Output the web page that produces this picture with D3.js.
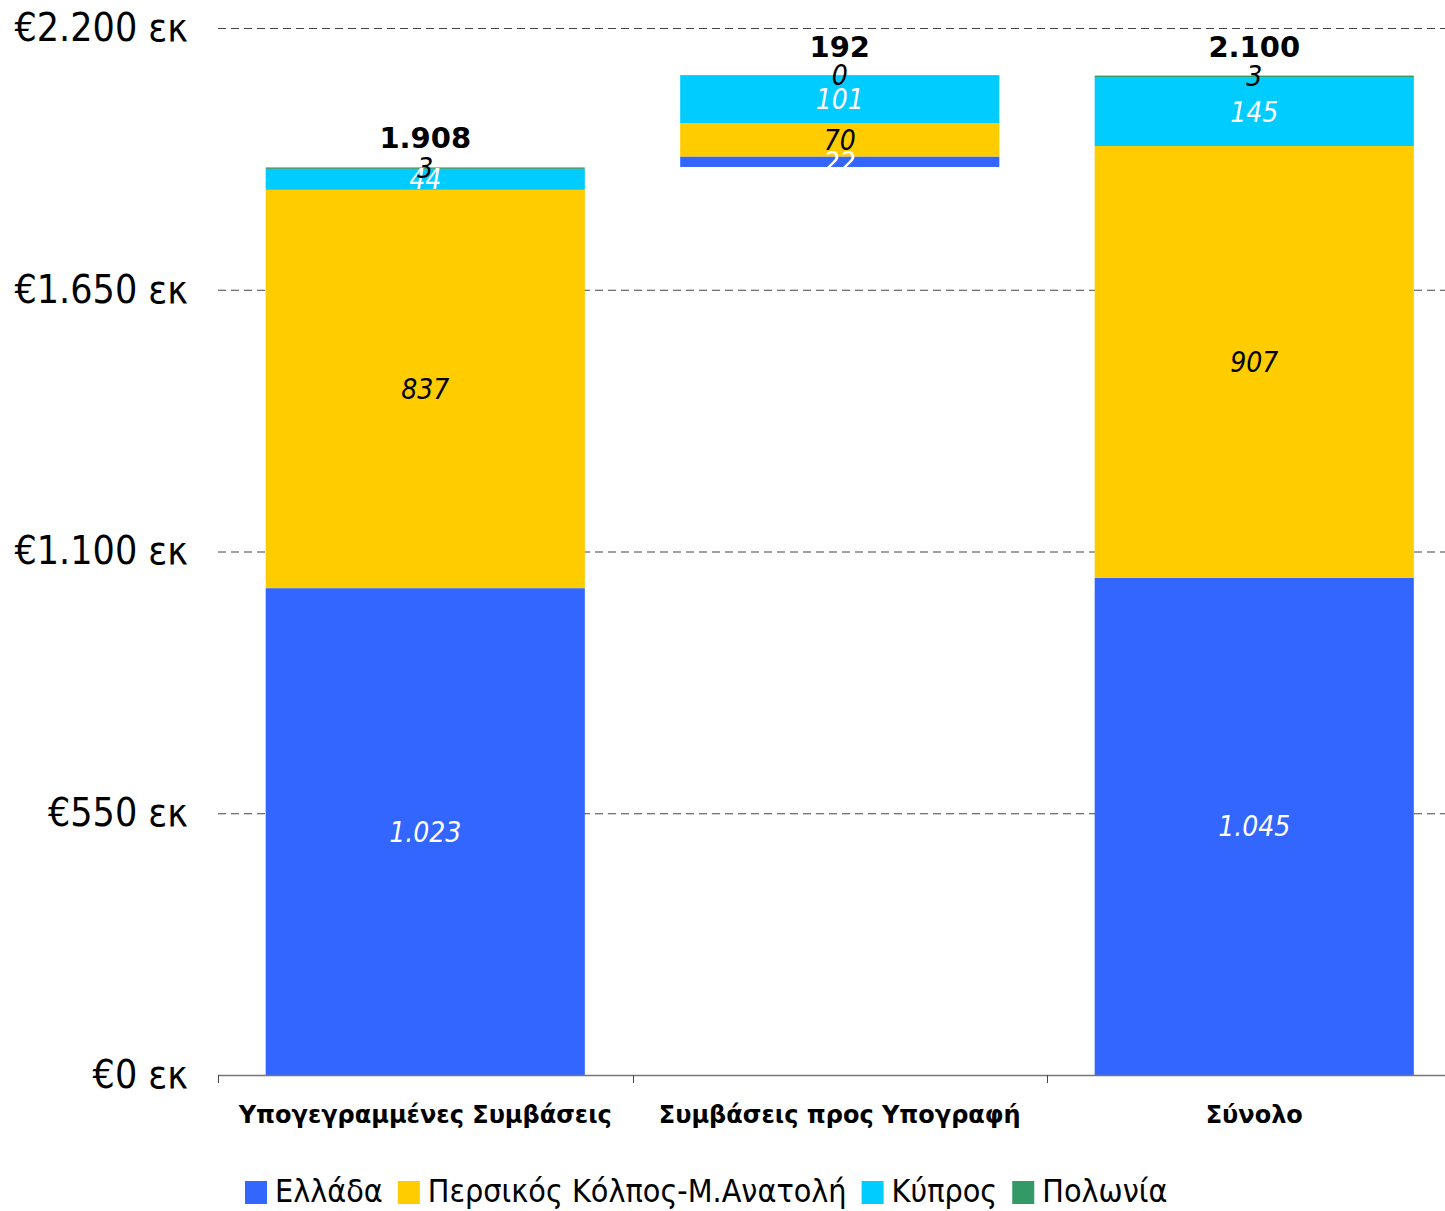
<!DOCTYPE html>
<html>
<head>
<meta charset="utf-8">
<script src="https://cdn.jsdelivr.net/npm/d3@7"></script>
<style>
  body { margin: 0; background: #fff; }
  svg text { font-family: "DejaVu Sans Condensed", "DejaVu Sans", sans-serif; }
</style>
</head>
<body>
<svg id="chart" width="1445" height="1211"></svg>
<script>
// categories and series
var categories = ["Υπογεγραμμένες Συμβάσεις", "Συμβάσεις προς Υπογραφή", "Σύνολο"];
var seriesNames = ["Ελλάδα", "Περσικός Κόλπος-Μ.Ανατολή", "Κύπρος", "Πολωνία"];
var seriesColors = ["#3366FF", "#FFCC00", "#00CCFF", "#339966"];
var labelColors = ["#fff", "#000", "#fff", "#000"];

// values (εκ €)
var greece = [1023, 22, 1045];
var gulf = [837, 70, 907];
var cyprus = [44, 101, 145];
var poland = [3, 0, 3];
var totals = [1908, 192, 2100];
var bases = [0, 1908, 0];   // second bar floats on top of the first
var yTicks = [0, 550, 1100, 1650, 2200];

var values = [greece, gulf, cyprus, poland];

var gr = d3.formatLocale({decimal: ",", thousands: ".", grouping: [3], currency: ["€", ""]});
var fmt = gr.format(",d");

var svg = d3.select("#chart");

var x = d3.scaleBand().domain(categories).range([218, 1461.5]).paddingInner(0.23).paddingOuter(0.115);
var y = d3.scaleLinear().domain([0, 2200]).range([1075, 28]);

// gridlines
svg.append("g").selectAll("line")
    .data(yTicks.filter(function(d){ return d > 0; }))
    .enter().append("line")
    .attr("x1", 218).attr("x2", 1445)
    .attr("y1", function(d){ return y(d) + 0.5; })
    .attr("y2", function(d){ return y(d) + 0.5; })
    .attr("stroke", "#444").attr("stroke-width", 1)
    .attr("stroke-dasharray", "8,5");

// y axis labels
var yAxis = d3.axisLeft(y).tickValues(yTicks).tickSize(0).tickPadding(0)
    .tickFormat(function(d){ return "€" + fmt(d) + " εκ"; });
var yg = svg.append("g").attr("transform", "translate(188,0)").call(yAxis);
yg.select(".domain").remove();
yg.selectAll("text").attr("font-size", 39).attr("fill", "#000")
    .style("font-family", "'DejaVu Sans Condensed', sans-serif");

// stacked segments
var segs = [];
categories.forEach(function(c, i){
    var acc = bases[i];
    values.forEach(function(v, s){
        segs.push({cat: c, s: s, v: v[i], y0: acc, y1: acc + v[i]});
        acc += v[i];
    });
});

svg.append("g").selectAll("rect")
    .data(segs).enter().append("rect")
    .attr("x", function(d){ return x(d.cat); })
    .attr("width", x.bandwidth())
    .attr("y", function(d){ return y(d.y1); })
    .attr("height", function(d){ return y(d.y0) - y(d.y1); })
    .attr("fill", function(d){ return seriesColors[d.s]; });

// segment labels
svg.append("g").selectAll("text")
    .data(segs).enter().append("text")
    .attr("x", function(d){ return x(d.cat) + x.bandwidth() / 2; })
    .attr("y", function(d){ return (y(d.y0) + y(d.y1)) / 2 + 10; })
    .attr("text-anchor", "middle")
    .attr("font-size", 28).attr("font-style", "italic")
    .attr("fill", function(d){ return labelColors[d.s]; })
    .text(function(d){ return fmt(d.v); });

// totals
svg.append("g").selectAll("text")
    .data(categories).enter().append("text")
    .attr("x", function(c){ return x(c) + x.bandwidth() / 2; })
    .attr("y", function(c, i){ return y(bases[i] + totals[i]) - 19; })
    .attr("text-anchor", "middle")
    .attr("font-size", 29).attr("font-weight", "bold")
    .style("font-family", "'DejaVu Sans', sans-serif")
    .text(function(c, i){ return fmt(totals[i]); });

// x axis
var half = x.step() * x.paddingInner() / 2;
svg.append("line")
    .attr("x1", 218).attr("x2", 1445)
    .attr("y1", y(0) + 0.5).attr("y2", y(0) + 0.5)
    .attr("stroke", "#777").attr("stroke-width", 1.5);
svg.append("g").selectAll("line")
    .data(categories).enter().append("line")
    .attr("x1", function(c){ return Math.round(x(c) - half) + 0.5; })
    .attr("x2", function(c){ return Math.round(x(c) - half) + 0.5; })
    .attr("y1", y(0)).attr("y2", y(0) + 8)
    .attr("stroke", "#444").attr("stroke-width", 1);

svg.append("g").selectAll("text")
    .data(categories).enter().append("text")
    .attr("x", function(c){ return x(c) + x.bandwidth() / 2; })
    .attr("y", 1123)
    .attr("text-anchor", "middle")
    .attr("font-size", 24).attr("font-weight", "bold")
    .style("font-family", "'DejaVu Sans', sans-serif")
    .text(function(c){ return c; });

// legend
var legend = svg.append("g");
var items = legend.selectAll("g").data(seriesNames).enter().append("g");
items.append("rect").attr("width", 22).attr("height", 23).attr("y", -21)
    .attr("fill", function(d, i){ return seriesColors[i]; });
items.append("text").attr("x", 30).attr("y", 0).attr("font-size", 32)
    .text(function(d){ return d; });
var lx = 0;
items.each(function(){
    var g = d3.select(this);
    g.attr("transform", "translate(" + lx + ",0)");
    lx += 30 + g.select("text").node().getComputedTextLength() + 15;
});
lx -= 15;
legend.attr("transform", "translate(" + Math.round(706 - lx / 2) + ",1202)");
</script>
</body>
</html>
